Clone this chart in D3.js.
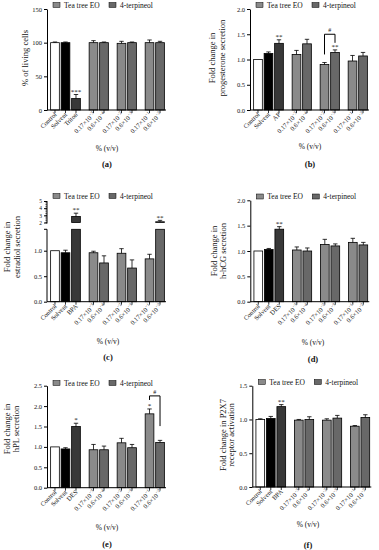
<!DOCTYPE html>
<html><head><meta charset="utf-8">
<script src="https://cdn.jsdelivr.net/npm/d3@7"></script>
<style>
body{margin:0;background:#fff}
text{font-family:"Liberation Serif","Times New Roman",serif;fill:#111}
</style>
</head><body><script>
// categories shared by every panel; "^" marks the exponent
const categories = ["Control", "Solvent", "POS", "0.17×10^−3", "0.6×10^−4", "0.17×10^−2", "0.6×10^−3", "0.17×10^−1", "0.6×10^−2"];
const groups = [0, 0, 0, 1, 1, 2, 2, 3, 3];
const kinds = ["control", "solvent", "positive", "tea", "terp", "tea", "terp", "tea", "terp"];
const legendNames = ["Tea tree EO", "4-terpineol"];
const positiveLabels = ["Triton", "AP", "BPA", "DES", "DES", "BPA"];

const valuesA = [100, 100, 17, 100, 100, 99, 100, 100, 100];
const errorsA = [1, 1, 6, 3, 1, 3, 1, 4, 2];
const starsA = ["", "", "***", "", "", "", "", "", ""];

const valuesB = [1.0, 1.12, 1.32, 1.10, 1.31, 0.90, 1.14, 0.97, 1.07];
const errorsB = [0, 0.03, 0.07, 0.08, 0.09, 0.04, 0.05, 0.11, 0.07];
const starsB = ["", "", "**", "", "", "", "**", "", ""];

const valuesC = [1.0, 0.96, 2.85, 0.96, 0.76, 0.95, 0.66, 0.84, 2.1];
const errorsC = [0, 0.05, 0.45, 0.03, 0.14, 0.09, 0.16, 0.09, 0.2];
const starsC = ["", "", "**", "", "", "", "", "", "**"];

const valuesD = [1.0, 1.03, 1.43, 1.02, 1.0, 1.13, 1.10, 1.17, 1.12];
const errorsD = [0, 0.02, 0.05, 0.06, 0.06, 0.10, 0.04, 0.08, 0.05];
const starsD = ["", "", "**", "", "", "", "", "", ""];

const valuesE = [1.0, 0.95, 1.50, 0.93, 0.93, 1.10, 0.98, 1.81, 1.11];
const errorsE = [0, 0.03, 0.08, 0.13, 0.09, 0.11, 0.08, 0.12, 0.05];
const starsE = ["", "", "*", "", "", "", "", "*", ""];

const valuesF = [1.0, 1.015, 1.19, 0.99, 1.0, 0.99, 1.02, 0.90, 1.03];
const errorsF = [0.01, 0.03, 0.03, 0.01, 0.04, 0.02, 0.04, 0.01, 0.04];
const starsF = ["", "", "**", "", "", "", "", "", ""];

// bracket annotations (data units)
const bracketB = { from: 5, to: 6, top: 1.5, left: 1.1, right: 1.33, label: "#" };
const bracketE = { from: 7, to: 8, top: 2.25, left: 2.15, right: 1.51, label: "#" };

const colors = { control: "#ffffff", solvent: "#000000", positive: "#383838", tea: "#8a8a8a", terp: "#686868" };

const svg = d3.select("body").append("svg").attr("width", 379).attr("height", 550);

function slot(i) { return i + groups[i] * 0.667; }

function drawPanel(p) {
  const g = svg.append("g");
  const x = d3.scaleLinear().domain([-0.76, 10.57]).range([p.ox, p.ox + 119]);
  const bw = (x(1) - x(0)) * 0.83;
  let y, yHigh = null;
  if (p.broken) {
    y = d3.scaleLinear().domain([0, p.broken.lowMax]).range([p.y0, p.broken.lowTop]);
    yHigh = d3.scaleLinear().domain([p.broken.highMin, p.broken.highMax]).range([p.broken.highBottom, p.broken.highTop]);
  } else {
    y = d3.scaleLinear().domain(p.domain).range([p.y0, p.yTop]);
  }
  const yv = v => (yHigh && v > p.broken.lowMax) ? yHigh(v) : y(v);

  // bars
  p.values.forEach((v, i) => {
    const xc = x(slot(i));
    const fill = colors[kinds[i]];
    if (yHigh && v > p.broken.lowMax) {
      g.append("rect").attr("x", xc - bw / 2).attr("y", y(p.broken.lowMax)).attr("width", bw)
        .attr("height", p.y0 - y(p.broken.lowMax)).attr("fill", fill).attr("stroke", "#000").attr("stroke-width", 0.8);
      g.append("rect").attr("x", xc - bw / 2).attr("y", yHigh(v)).attr("width", bw)
        .attr("height", yHigh(p.broken.highMin) - yHigh(v)).attr("fill", fill).attr("stroke", "#000").attr("stroke-width", 0.8);
    } else {
      g.append("rect").attr("x", xc - bw / 2).attr("y", y(v)).attr("width", bw)
        .attr("height", p.y0 - y(v)).attr("fill", fill).attr("stroke", "#000").attr("stroke-width", 0.8);
    }
    const e = p.errors[i];
    if (e > 0) {
      const yt = yv(v + e);
      g.append("line").attr("x1", xc).attr("x2", xc).attr("y1", yv(v)).attr("y2", yt).attr("stroke", "#000").attr("stroke-width", 0.8);
      g.append("line").attr("x1", xc - 2.2).attr("x2", xc + 2.2).attr("y1", yt).attr("y2", yt).attr("stroke", "#000").attr("stroke-width", 0.8);
    }
    if (p.stars[i]) {
      g.append("text").attr("x", xc).attr("y", yv(v + e) - 0.8).attr("text-anchor", "middle")
        .attr("font-size", 7).text(p.stars[i]);
    }
  });

  // y axis
  if (p.broken) {
    const low = g.append("g").attr("transform", `translate(${p.ox},0)`)
      .call(d3.axisLeft(y).tickValues([0, 0.5, 1.0]).tickFormat(d3.format(".1f")).tickSize(3).tickPadding(2));
    const high = g.append("g").attr("transform", `translate(${p.ox},0)`)
      .call(d3.axisLeft(yHigh).tickValues([2, 3, 4, 5]).tickFormat(d3.format("d")).tickSize(3).tickPadding(2));
    [low, high].forEach(a => { a.select(".domain").attr("d", null); a.selectAll("text").attr("font-size", 6.5).attr("font-family", null); });
    high.selectAll("text").attr("font-size", 5.5);
    g.append("line").attr("x1", p.ox).attr("x2", p.ox).attr("y1", p.y0).attr("y2", y(p.broken.lowMax)).attr("stroke", "#000");
    g.append("line").attr("x1", p.ox).attr("x2", p.ox).attr("y1", yHigh(p.broken.highMin) + 1).attr("y2", yHigh(p.broken.highMax)).attr("stroke", "#000");
    g.append("line").attr("x1", p.ox - 3).attr("x2", p.ox).attr("y1", y(p.broken.lowMax)).attr("y2", y(p.broken.lowMax)).attr("stroke", "#000");
    d3.range(p.broken.highMin, p.broken.highMax, 0.25).forEach(t => {
      g.append("line").attr("x1", p.ox - 1.6).attr("x2", p.ox).attr("y1", yHigh(t)).attr("y2", yHigh(t)).attr("stroke", "#000").attr("stroke-width", 0.6);
    });
  } else {
    const ax = g.append("g").attr("transform", `translate(${p.ox},0)`)
      .call(d3.axisLeft(y).tickValues(p.ticks).tickFormat(d3.format(p.fmt)).tickSize(3).tickPadding(2).tickSizeOuter(0));
    ax.selectAll("text").attr("font-size", 6.5).attr("font-family", null);
  }
  g.selectAll(".tick line").attr("stroke", "#000");

  // x axis
  g.append("line").attr("x1", p.ox).attr("x2", p.ox + 119).attr("y1", p.y0).attr("y2", p.y0).attr("stroke", "#000");
  categories.forEach((c, i) => {
    const xc = x(slot(i));
    g.append("line").attr("x1", xc).attr("x2", xc).attr("y1", p.y0).attr("y2", p.y0 + 3).attr("stroke", "#000").attr("stroke-width", 0.8);
    const label = c === "POS" ? p.positive : c;
    const parts = label.split("^");
    const t = g.append("text").attr("transform", `translate(${xc + 2},${p.y0 + 5}) rotate(-45)`)
      .attr("text-anchor", "end").attr("font-size", 6.5);
    t.append("tspan").text(parts[0]);
    if (parts[1]) t.append("tspan").attr("font-size", 4.5).attr("dy", -2.5).text(parts[1]);
  });

  // bracket
  if (p.bracket) {
    const b = p.bracket;
    const x1 = x(slot(b.from)), x2 = x(slot(b.to));
    g.append("path").attr("d", `M${x1},${yv(b.left)}V${yv(b.top)}H${x2}V${yv(b.right)}`)
      .attr("fill", "none").attr("stroke", "#000").attr("stroke-width", 1);
    g.append("text").attr("x", (x1 + x2) / 2).attr("y", yv(b.top) - 2).attr("text-anchor", "middle")
      .attr("font-size", 6).text(b.label);
  }

  // legend
  const ly = p.legendY;
  [[kinds[3], 0], [kinds[4], 1]].forEach(([k, j]) => {
    const lx = p.ox + 6 + j * 56;
    g.append("rect").attr("x", lx).attr("y", ly - 2.5).attr("width", 7).attr("height", 5)
      .attr("fill", colors[k]).attr("stroke", "#000").attr("stroke-width", 0.5);
    g.append("text").attr("x", lx + 11).attr("y", ly + 2.5).attr("font-size", 7.5).text(legendNames[j]);
  });

  // y label
  p.ylabel.forEach((s, j) => {
    g.append("text").attr("transform", `translate(${p.ylabelX[j]},${p.ylabelY}) rotate(-90)`)
      .attr("text-anchor", "middle").attr("dy", "0.35em").attr("font-size", 8.5).text(s);
  });

  g.append("text").attr("x", p.cx).attr("y", p.xtitleY).attr("text-anchor", "middle").attr("font-size", 7.5).text("% (v/v)");
  g.append("text").attr("x", p.cx).attr("y", p.letterY).attr("text-anchor", "middle").attr("font-size", 8.5)
    .attr("font-weight", "bold").text(p.letter);
}

drawPanel({ ox: 47, y0: 110, yTop: 9, domain: [0, 150], ticks: [0, 50, 100, 150], fmt: "d",
  values: valuesA, errors: errorsA, stars: starsA, positive: positiveLabels[0],
  legendY: 5, ylabel: ["% of living cells"], ylabelX: [25], ylabelY: 58,
  cx: 107, xtitleY: 151, letterY: 167, letter: "(a)" });

drawPanel({ ox: 250, y0: 110, yTop: 9, domain: [0, 2], ticks: [0, 0.5, 1, 1.5, 2], fmt: ".1f",
  values: valuesB, errors: errorsB, stars: starsB, positive: positiveLabels[1], bracket: bracketB,
  legendY: 5, ylabel: ["Fold change in", "progesterone secretion"], ylabelX: [212, 222], ylabelY: 58,
  cx: 310, xtitleY: 149, letterY: 167, letter: "(b)" });

drawPanel({ ox: 47, y0: 301.7, broken: { lowMax: 1.42, lowTop: 229.3, highMin: 2, highMax: 5, highBottom: 222.5, highTop: 201 },
  values: valuesC, errors: errorsC, stars: starsC, positive: positiveLabels[2],
  legendY: 196, ylabel: ["Fold change in", "estradiol secretion"], ylabelX: [7, 17], ylabelY: 247,
  cx: 108, xtitleY: 344, letterY: 360, letter: "(c)" });

drawPanel({ ox: 250.3, y0: 301.7, yTop: 200.3, domain: [0, 2], ticks: [0, 0.5, 1, 1.5, 2], fmt: ".1f",
  values: valuesD, errors: errorsD, stars: starsD, positive: positiveLabels[3],
  legendY: 196.5, ylabel: ["Fold change in", "h-hCG secretion"], ylabelX: [214, 223.5], ylabelY: 251,
  cx: 313, xtitleY: 345, letterY: 362, letter: "(d)" });

drawPanel({ ox: 47, y0: 487.7, yTop: 385.7, domain: [0, 2.5], ticks: [0, 0.5, 1, 1.5, 2, 2.5], fmt: ".1f",
  values: valuesE, errors: errorsE, stars: starsE, positive: positiveLabels[4], bracket: bracketE,
  legendY: 383, ylabel: ["Fold change in", "hPL secretion"], ylabelX: [7, 16], ylabelY: 429,
  cx: 107, xtitleY: 530, letterY: 547, letter: "(e)" });

drawPanel({ ox: 252.3, y0: 487, yTop: 385.7, domain: [0, 1.5], ticks: [0, 0.5, 1, 1.5], fmt: ".1f",
  values: valuesF, errors: errorsF, stars: starsF, positive: positiveLabels[5],
  legendY: 382, ylabel: ["Fold change in P2X7", "receptor activation"], ylabelX: [223, 231.5], ylabelY: 435,
  cx: 308, xtitleY: 527, letterY: 548, letter: "(f)" });
</script></body></html>
